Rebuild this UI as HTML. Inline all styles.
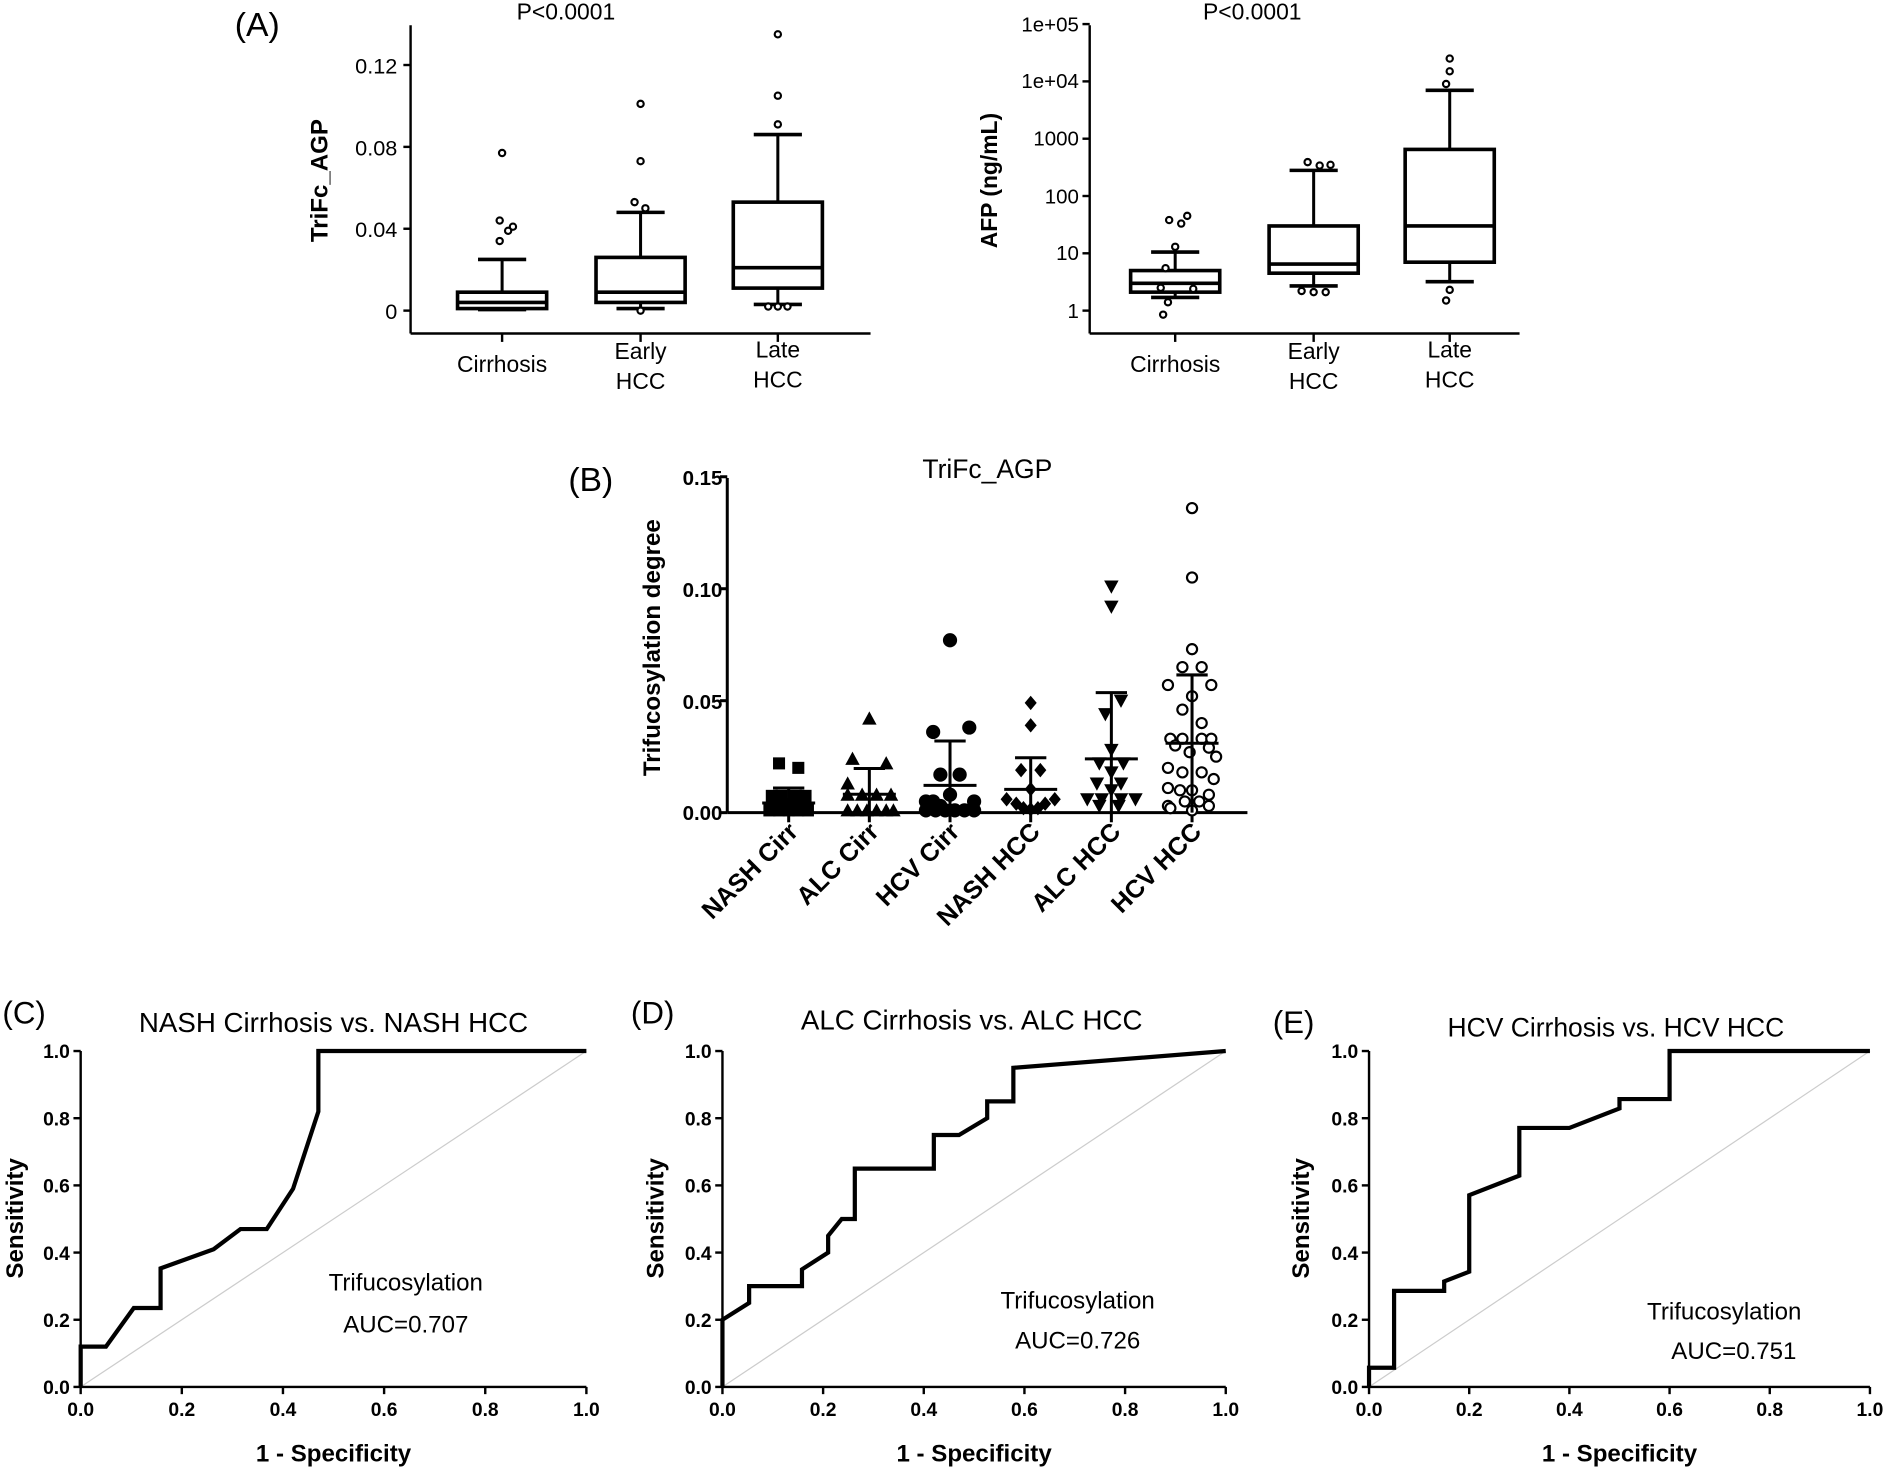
<!DOCTYPE html>
<html><head><meta charset="utf-8"><style>
html,body{margin:0;padding:0;background:#fff}
svg{display:block}
text{font-family:"Liberation Sans",Arial,sans-serif;fill:#000}
.b{font-weight:bold}
</style></head><body>
<svg id="s" width="1888" height="1470" viewBox="0 0 1568 1221" preserveAspectRatio="none" xmlns="http://www.w3.org/2000/svg">
<rect width="1568" height="1221" fill="#fff"/>
<!-- Panel A left -->
<text x="195" y="30" font-size="28">(A)</text>
<text x="470" y="16" font-size="19" text-anchor="middle">P&lt;0.0001</text>
<g font-size="18" text-anchor="end">
<text x="330" y="61">0.12</text><text x="330" y="129">0.08</text><text x="330" y="197">0.04</text><text x="330" y="265">0</text>
</g>
<text class="b" font-size="20" transform="translate(272,150) rotate(-90)" text-anchor="middle">TriFc_AGP</text>
<g font-size="19" text-anchor="middle">
<text x="417" y="309">Cirrhosis</text>
<text x="532" y="298">Early</text><text x="532" y="323">HCC</text>
<text x="646" y="297">Late</text><text x="646" y="322">HCC</text>
</g>
<!-- Panel A right -->
<text x="1040" y="16" font-size="19" text-anchor="middle">P&lt;0.0001</text>
<g font-size="17" text-anchor="end">
<text x="896" y="26">1e+05</text><text x="896" y="73">1e+04</text><text x="896" y="121">1000</text><text x="896" y="169">100</text><text x="896" y="216">10</text><text x="896" y="264">1</text>
</g>
<text class="b" font-size="19" transform="translate(828,150) rotate(-90)" text-anchor="middle">AFP (ng/mL)</text>
<g font-size="19" text-anchor="middle">
<text x="976" y="309">Cirrhosis</text>
<text x="1091" y="298">Early</text><text x="1091" y="323">HCC</text>
<text x="1204" y="297">Late</text><text x="1204" y="322">HCC</text>
</g>
<!-- Panel B -->
<text x="472" y="408" font-size="28">(B)</text>
<text x="820" y="397" font-size="22" text-anchor="middle">TriFc_AGP</text>
<g class="b" font-size="17" text-anchor="end">
<text x="600" y="403">0.15</text><text x="600" y="496">0.10</text><text x="600" y="589">0.05</text><text x="600" y="681">0.00</text>
</g>
<text class="b" font-size="20" transform="translate(548,538) rotate(-90)" text-anchor="middle">Trifucosylation degree</text>
<g class="b" font-size="21" text-anchor="end">
<text transform="translate(664,692) rotate(-45)">NASH Cirr</text>
<text transform="translate(731,692) rotate(-45)">ALC Cirr</text>
<text transform="translate(798,692) rotate(-45)">HCV Cirr</text>
<text transform="translate(865,692) rotate(-45)">NASH HCC</text>
<text transform="translate(932,692) rotate(-45)">ALC HCC</text>
<text transform="translate(999,692) rotate(-45)">HCV HCC</text>
</g>
<!-- ROC titles -->
<text x="2" y="850" font-size="26">(C)</text>
<text x="277" y="857" font-size="23" text-anchor="middle">NASH Cirrhosis vs. NASH HCC</text>
<text x="524" y="850" font-size="26">(D)</text>
<text x="807" y="855" font-size="23" text-anchor="middle">ALC Cirrhosis vs. ALC HCC</text>
<text x="1057" y="858" font-size="26">(E)</text>
<text x="1342" y="861" font-size="22" text-anchor="middle">HCV Cirrhosis vs. HCV HCC</text>
<text x="337" y="1072" font-size="20" text-anchor="middle">Trifucosylation</text>
<text x="337" y="1107" font-size="20" text-anchor="middle">AUC=0.707</text>
<text x="895" y="1087" font-size="20" text-anchor="middle">Trifucosylation</text>
<text x="895" y="1120" font-size="20" text-anchor="middle">AUC=0.726</text>
<text x="1432" y="1096" font-size="20" text-anchor="middle">Trifucosylation</text>
<text x="1440" y="1129" font-size="20" text-anchor="middle">AUC=0.751</text>
<g class="b" font-size="20" text-anchor="middle">
<text x="277" y="1214">1 - Specificity</text>
<text x="809" y="1214">1 - Specificity</text>
<text x="1345" y="1214">1 - Specificity</text>
<text transform="translate(19,1012) rotate(-90)">Sensitivity</text>
<text transform="translate(551,1012) rotate(-90)">Sensitivity</text>
<text transform="translate(1087,1012) rotate(-90)">Sensitivity</text>
</g>
<g id="rt" font-size="16" text-anchor="middle"></g>
<g id="g"></g>
</svg>
<script>
var NS="http://www.w3.org/2000/svg",G=document.getElementById('g'),RT=document.getElementById('rt');
function el(t,a,p){var e=document.createElementNS(NS,t);for(var k in a)e.setAttribute(k,a[k]);(p||G).appendChild(e);return e;}
function L(x1,y1,x2,y2,w,c){el('line',{x1:x1,y1:y1,x2:x2,y2:y2,stroke:c||'#000','stroke-width':w||2.5});}
function circ(x,y,r,fill){el('circle',{cx:x,cy:y,r:r,fill:fill?'#000':'#fff',stroke:'#000','stroke-width':1.8});}
L(341,21,341,277,2);L(341,277,723,277,2);
[0.12,0.08,0.04,0].forEach(function(v){var y=258-v*1700;L(335,y,341,y,2);});
function box(cx,f,st,w,out){var y=function(v){return f(v)};var h=37;
 L(cx,y(st[0]),cx,y(st[1]));L(cx,y(st[3]),cx,y(st[4]));
 L(cx-20,y(st[0]),cx+20,y(st[0]),3);L(cx-20,y(st[4]),cx+20,y(st[4]),3);
 el('rect',{x:cx-h,y:y(st[3]),width:2*h,height:y(st[1])-y(st[3]),fill:'none',stroke:'#000','stroke-width':3});
 L(cx-h,y(st[2]),cx+h,y(st[2]),3);
 out.forEach(function(o){circ(cx+o[1],y(o[0]),2.6);});}
var fl=function(v){return 258-v*1700};
[417,532,646].forEach(function(c){L(c,277,c,284,2);});
box(417,fl,[0.0005,0.001,0.004,0.009,0.025],0,[[0.077,0],[0.044,-2],[0.041,9],[0.039,5],[0.034,-2]]);
box(532,fl,[0.001,0.004,0.009,0.026,0.048],0,[[0.101,0],[0.073,0],[0.053,-5],[0.050,4],[0.0,0]]);
box(646,fl,[0.003,0.011,0.021,0.053,0.086],0,[[0.135,0],[0.105,0],[0.091,0],[0.002,-8],[0.002,0],[0.002,8]]);
L(905,21,905,277,2);L(905,277,1262,277,2);
var fr=function(v){return 258-Math.log10(v)*47.6};
[1,10,100,1000,1e4,1e5].forEach(function(v){var y=fr(v);L(899,y,905,y,2);});
[976,1091,1204].forEach(function(c){L(c,277,c,284,2);});
box(976,fr,[1.7,2.1,3,5,10.5],0,[[45,10],[38,-5],[33,5],[13,0],[5.5,-8],[2.5,-12],[2.4,15],[1.4,-6],[0.85,-10]]);
box(1091,fr,[2.7,4.5,6.5,30,280],0,[[390,-5],[340,5],[350,14],[2.2,-10],[2.1,0],[2.1,10]]);
box(1204,fr,[3.2,7,30,650,7000],0,[[25000,0],[15000,0],[9000,-3],[2.3,0],[1.5,-3]]);
L(604,397,604,675,2.5);L(604,675,1036,675,2.5);
[0,0.05,0.10,0.15].forEach(function(v){var y=675-v*1860;L(598,y,604,y,2.5);});
var cx=[655,722,789,856,923,990];
cx.forEach(function(c){L(c,675,c,683,2.5);});
var yb=function(v){return 675-v*1860};
function mk(type,x,y){var s=5;
 if(type==0)el('rect',{x:x-s,y:y-s,width:2*s,height:2*s,fill:'#000'});
 else if(type==1)el('polygon',{points:(x)+','+(y-6)+' '+(x-6)+','+(y+5)+' '+(x+6)+','+(y+5),fill:'#000'});
 else if(type==2)circ(x,y,5,true);
 else if(type==3)el('polygon',{points:x+','+(y-6)+' '+(x+5)+','+y+' '+x+','+(y+6)+' '+(x-5)+','+y,fill:'#000'});
 else if(type==4)el('polygon',{points:(x)+','+(y+6)+' '+(x-6)+','+(y-5)+' '+(x+6)+','+(y-5),fill:'#000'});
 else circ(x,y,4.2,false);}
var pts=[
 [[0.022,-8],[0.020,8],[0.0075,-14],[0.0075,-6],[0.0075,6],[0.0075,14],[0.004,-3],[0.004,4],[0.001,-16],[0.001,-8],[0.001,0],[0.001,8],[0.001,16]],
 [[0.042,0],[0.024,-14],[0.022,14],[0.013,-18],[0.008,-18],[0.008,-6],[0.008,6],[0.008,18],[0.001,-18],[0.001,-10],[0.001,-2],[0.001,6],[0.001,14],[0.001,20]],
 [[0.077,0],[0.038,16],[0.036,-14],[0.017,-8],[0.017,8],[0.008,0],[0.005,-20],[0.005,-14],[0.005,20],[0.003,-8],[0.001,-20],[0.001,-12],[0.001,-4],[0.001,4],[0.001,12],[0.001,20]],
 [[0.049,0],[0.039,0],[0.019,-8],[0.019,8],[0.0105,0],[0.006,-20],[0.006,20],[0.004,-12],[0.004,12],[0.002,-6],[0.002,6],[0.0015,0]],
 [[0.101,0],[0.092,0],[0.050,8],[0.044,-5],[0.028,0],[0.022,-10],[0.022,10],[0.018,0],[0.013,-12],[0.013,8],[0.010,0],[0.006,-20],[0.006,-8],[0.006,8],[0.006,20],[0.003,-10],[0.003,6]],
 [[0.136,0],[0.105,0],[0.073,0],[0.065,-8],[0.065,8],[0.057,-20],[0.057,16],[0.052,0],[0.046,-8],[0.040,8],[0.033,-18],[0.033,-8],[0.033,8],[0.033,16],[0.030,-14],[0.029,14],[0.027,-2],[0.025,20],[0.020,-20],[0.018,-8],[0.018,8],[0.015,18],[0.011,-20],[0.010,-10],[0.010,0],[0.008,14],[0.005,-6],[0.005,6],[0.003,-20],[0.003,14],[0.002,-18],[0.001,0]]
];
var stats=[[0.0043,0.011],[0.0082,0.0197],[0.0122,0.032],[0.0104,0.0245],[0.024,0.0536],[0.031,0.0615]];
pts.forEach(function(g,i){
 g.forEach(function(p){mk(i,cx[i]+p[1],yb(p[0]));});
 var m=stats[i];L(cx[i],yb(0),cx[i],yb(m[1]),2.5);L(cx[i]-13,yb(m[1]),cx[i]+13,yb(m[1]),2.5);
 L(cx[i]-22,yb(m[0]),cx[i]+22,yb(m[0]),2.5);});
function roc(x0,x1,curve){var y0=1152,y1=873;var X=function(v){return x0+v*(x1-x0)},Y=function(v){return y0-v*(y0-y1)};
 L(X(0),Y(0),X(1),Y(1),1,'#ccc');
 L(x0,y1,x0,y0,2);L(x0,y0,x1,y0,2);
 for(var i=0;i<=5;i++){var v=i/5;L(x0-6,Y(v),x0,Y(v),2);L(X(v),y0,X(v),y0+6,2);
  el('text',{x:X(v),y:y0+24,'font-size':16,'font-weight':'bold','text-anchor':'middle'},RT).textContent=v.toFixed(1);
  el('text',{x:x0-9,y:Y(v)+6,'font-size':16,'font-weight':'bold','text-anchor':'end'},RT).textContent=v.toFixed(1);}
 el('polyline',{points:curve.map(function(p){return X(p[0])+','+Y(p[1])}).join(' '),fill:'none',stroke:'#000','stroke-width':3.5,'stroke-linejoin':'miter'});}
roc(67,487,[[0,0],[0,0.12],[0.05,0.12],[0.105,0.235],[0.158,0.235],[0.158,0.353],[0.263,0.41],[0.316,0.47],[0.368,0.47],[0.42,0.59],[0.47,0.82],[0.47,1],[1,1]]);
roc(600,1018,[[0,0],[0,0.2],[0.053,0.25],[0.053,0.3],[0.158,0.3],[0.158,0.35],[0.21,0.4],[0.21,0.45],[0.237,0.5],[0.263,0.5],[0.263,0.65],[0.42,0.65],[0.42,0.75],[0.47,0.75],[0.526,0.8],[0.526,0.85],[0.578,0.85],[0.578,0.95],[1,1]]);
roc(1137,1553,[[0,0],[0,0.057],[0.05,0.057],[0.05,0.286],[0.15,0.286],[0.15,0.314],[0.2,0.343],[0.2,0.571],[0.3,0.629],[0.3,0.771],[0.4,0.771],[0.5,0.829],[0.5,0.857],[0.6,0.857],[0.6,1],[1,1]]);
</script>
</body></html>
